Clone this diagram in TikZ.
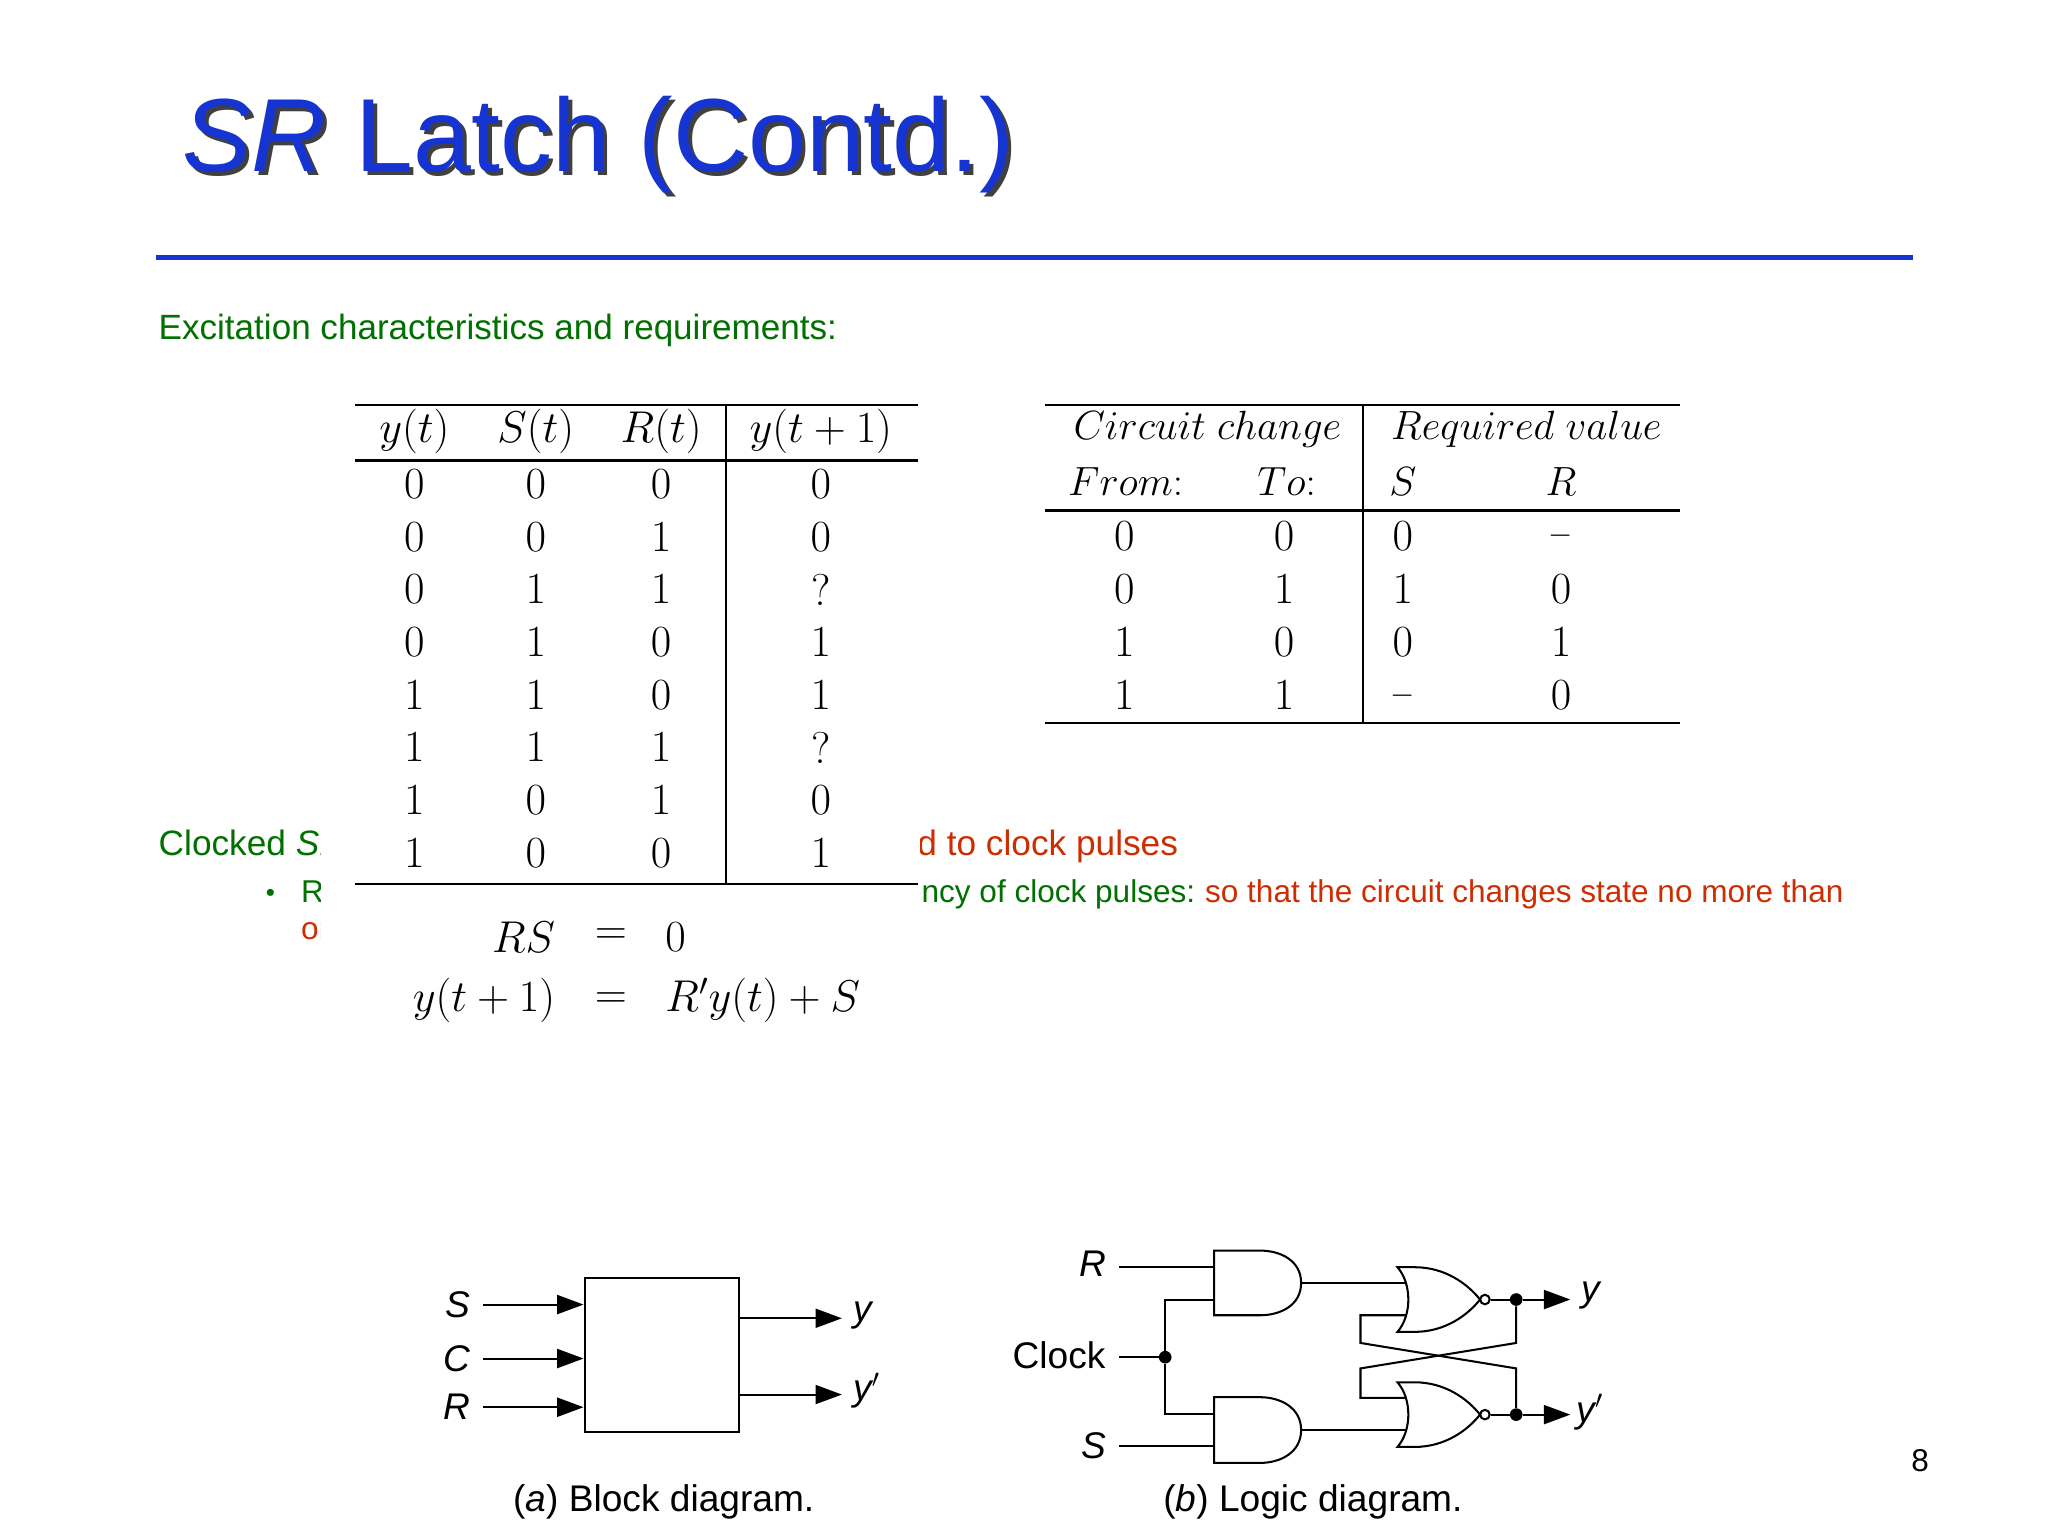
\RequirePackage{fix-cm}
\documentclass[tikz,border=0pt]{standalone}
\usepackage[no-math]{fontspec}
\setmainfont{Liberation Sans}
\usetikzlibrary{arrows.meta}
\definecolor{tblue}{RGB}{22,52,210}
\definecolor{tgreen}{RGB}{0,112,0}
\definecolor{tred}{RGB}{205,45,0}
\begin{document}
\begin{tikzpicture}[x=0.025cm,y=-0.025cm,
  tab/.style={font=\fontsize{24}{28}\selectfont, inner sep=0pt},
  hd/.style={font=\fontsize{22}{26}\selectfont, inner sep=0pt},
  rule/.style={line width=1.4pt},
  wire/.style={line width=1.1pt},
  arr/.style={wire,-{Triangle[length=0.5cm,width=0.36cm]}},
  lbl/.style={font=\fontsize{20}{24}\selectfont\itshape, inner sep=1pt},
  capt/.style={font=\fontsize{20}{24}\selectfont, inner sep=0pt},
  dot/.style={circle,fill=black,inner sep=0pt,minimum size=0.24cm}]
\useasboundingbox (0,0) rectangle (1552,1164);
% title
\node[anchor=base west,inner sep=0pt,text=black!75,font=\fontsize{56}{64}\selectfont] (tsh) at (141,133) {\textit{SR} Latch (Contd.)};
\node[anchor=base west,inner sep=0pt,text=tblue,font=\fontsize{56}{64}\selectfont] (title) at (138,130) {\textit{SR} Latch (Contd.)};
\draw[tblue,line width=0.1cm] (118,195) -- (1450,195);
\node[anchor=base west,inner sep=0pt,text=tgreen,font=\fontsize{18.9}{22}\selectfont] (exc) at (120,257) {Excitation characteristics and requirements:};
% text partly behind table
\node[anchor=base west,inner sep=0pt,text=tgreen,font=\fontsize{19}{22}\selectfont] (clk) at (120,648) {Clocked \textit{SR}};
\node[anchor=base east,inner sep=0pt,text=tred,font=\fontsize{19}{22}\selectfont] (clk2) at (893,648) {ed to clock pulses};
\node[anchor=base,inner sep=0pt,text=tgreen,font=\fontsize{14}{16}\selectfont] (bul) at (205,683) {\textbullet};
\node[anchor=base west,inner sep=0pt,text=tgreen,font=\fontsize{17}{20}\selectfont] (b1) at (228,684) {Re};
\node[anchor=base east,inner sep=0pt,text=tgreen,font=\fontsize{17}{20}\selectfont] (b2) at (906,684) {ency of clock pulses:};
\node[anchor=base west,inner sep=0pt,text=tred,font=\fontsize{17}{20}\selectfont] (b3) at (913,684) {so that the circuit changes state no more than};
\node[anchor=base west,inner sep=0pt,text=tred,font=\fontsize{17}{20}\selectfont] (b4) at (228,712) {on};
\fill[white] (243,298) rectangle (697,792);
% table 1
\draw[rule] (269,307) -- (696,307);
\draw[rule] (269,349) -- (696,349);
\draw[rule] (269,670) -- (696,670);
\draw[line width=0.9pt] (550,307) -- (550,670);
\node[tab] (h1) at (314,327) {$y(t)$};
\node[tab] (h2) at (406,327) {$S(t)$};
\node[tab] (h3) at (501,327) {$R(t)$};
\node[tab] (h4) at (622,327) {$y(t+1)$};
\foreach \a/\b/\c/\d [count=\i] in {0/0/0/0,0/0/1/0,0/1/1/?,0/1/0/1,1/1/0/1,1/1/1/?,1/0/1/0,1/0/0/1}{
  \pgfmathsetmacro{\yy}{367+(\i-1)*39.9}
  \node[tab] (ta\i) at (314,\yy) {$\a$};
  \node[tab] (tb\i) at (406,\yy) {$\b$};
  \node[tab] (tc\i) at (501,\yy) {$\c$};
  \node[tab] (td\i) at (622,\yy) {$\d$};
}
% equations
\node[tab,anchor=east] (e1l) at (421,710) {$RS$};
\node[tab] (e1m) at (463,710) {$=$};
\node[tab,anchor=west] (e1r) at (504,710) {$0$};
\node[tab,anchor=east] (e2l) at (421,758) {$y(t+1)$};
\node[tab] (e2m) at (463,758) {$=$};
\node[tab,anchor=west] (e2r) at (504,758) {$R'y(t)+S$};
% table 2
\draw[rule] (792,307) -- (1273,307);
\draw[rule] (792,387) -- (1273,387);
\draw[rule] (792,548) -- (1273,548);
\draw[line width=0.9pt] (1033,307) -- (1033,548);
\node[hd] (c1) at (915,325) {$Circuit\ change$};
\node[hd,anchor=west] (c2) at (1054,325) {$Required\ value$};
\node[hd] (f1) at (853,365) {$From{:}$};
\node[hd] (f2) at (975,365) {$To{:}$};
\node[hd] (f3) at (1063,365) {$S$};
\node[hd] (f4) at (1183,365) {$R$};
\foreach \a/\b/\c/\d [count=\i] in {0/0/0/{\scriptstyle-},0/1/1/0,1/0/0/1,1/1/{\scriptstyle-}/0}{
  \pgfmathsetmacro{\yy}{406+(\i-1)*40.3}
  \node[tab] (ua\i) at (852,\yy) {$\a$};
  \node[tab] (ub\i) at (973,\yy) {$\b$};
  \node[tab] (uc\i) at (1063,\yy) {$\c$};
  \node[tab] (ud\i) at (1183,\yy) {$\d$};
}
% block diagram
\node[draw,wire,minimum width=117*0.025cm,minimum height=117*0.025cm,inner sep=0pt] (box) at (501.5,1027) {};
\node[lbl,anchor=east] (lS) at (358,988.6) {S};
\node[lbl,anchor=east] (lC) at (358,1029.5) {C};
\node[lbl,anchor=east] (lR) at (358,1066.4) {R};
\coordinate (iS) at (366,988.6);
\coordinate (iC) at (366,1029.5);
\coordinate (iR) at (366,1066.4);
\draw[arr] (iS) -- (box.west |- iS);
\draw[arr] (iC) -- (box.west |- iC);
\draw[arr] (iR) -- (box.west |- iR);
\coordinate (oy) at (638,999);
\coordinate (oyp) at (638,1056.8);
\draw[arr] (box.east |- oy) -- (oy);
\draw[arr] (box.east |- oyp) -- (oyp);
\node[lbl,anchor=west] (ly) at (645,997) {y};
\node[lbl,anchor=west] (lyp) at (645,1054) {y$'$};
\node[capt] (capa) at (503,1138) {(\textit{a}) Block diagram.};
% logic diagram
\draw[wire] (920,947.7) -- (955,947.7) .. controls (970,947.7) and (986,955) .. (986,972.2) .. controls (986,989.4) and (970,996.7) .. (955,996.7) -- (920,996.7) -- cycle;
\draw[wire] (920,1058.8) -- (955,1058.8) .. controls (970,1058.8) and (986,1066.5) .. (986,1083.7) .. controls (986,1100.9) and (970,1108.6) .. (955,1108.6) -- (920,1108.6) -- cycle;
\foreach \c/\n in {984.8/1,1072/2}{
  \draw[wire] (1059,\c-24.5) .. controls (1070,\c-12) and (1070,\c+12) .. (1059,\c+24.5)
    -- (1072,\c+24.5) .. controls (1095,\c+24.5) and (1112,\c+12) .. (1121.6,\c)
    .. controls (1112,\c-12) and (1095,\c-24.5) .. (1072,\c-24.5) -- cycle;
  \node[draw,wire,circle,fill=white,inner sep=0pt,minimum size=0.18cm] (bub\n) at (1125.3,\c) {};
}
\node[lbl,anchor=east] (gR) at (840,958) {R};
\node[lbl,anchor=east] (gS) at (840,1095.5) {S};
\node[capt,anchor=east] (gC) at (838,1027) {Clock};
\coordinate (wR) at (848,960);
\coordinate (wS) at (848,1095.5);
\coordinate (wC) at (848,1028.5);
\node[dot] (jc) at (883,1028.5) {};
\draw[wire] (wR) -- (920,960);
\draw[wire] (wS) -- (920,1095.5);
\draw[wire] (wC) -- (jc);
\draw[wire] (920,984.8) -- (883,984.8) -- (jc) -- (883,1071.5) -- (920,1071.5);
\draw[wire] (986,972.2) -- (1066,972.2);
\draw[wire] (986,1084) -- (1066,1084);
\node[dot] (d1) at (1149,984.8) {};
\node[dot] (d2) at (1149,1072) {};
\draw[wire] (bub1) -- (d1);
\draw[wire] (bub2) -- (d2);
\coordinate (ay) at (1190,984.8);
\coordinate (ayp) at (1190,1072);
\draw[arr] (d1) -- (ay);
\draw[arr] (d2) -- (ayp);
\node[lbl,anchor=west] (gy) at (1197,982) {y};
\node[lbl,anchor=west] (gyp) at (1193,1070) {y$'$};
\draw[wire] (1066,996.7) -- (1031,996.7) -- (1031,1017.7) -- (1149,1037) -- (d2);
\draw[wire] (1066,1059.3) -- (1031,1059.3) -- (1031,1037) -- (1149,1017.7) -- (d1);
\node[capt] (capb) at (995,1138) {(\textit{b}) Logic diagram.};
\node[font=\fontsize{17}{20}\selectfont,inner sep=0pt] (pg) at (1455,1107) {8};
\end{tikzpicture}
\end{document}
